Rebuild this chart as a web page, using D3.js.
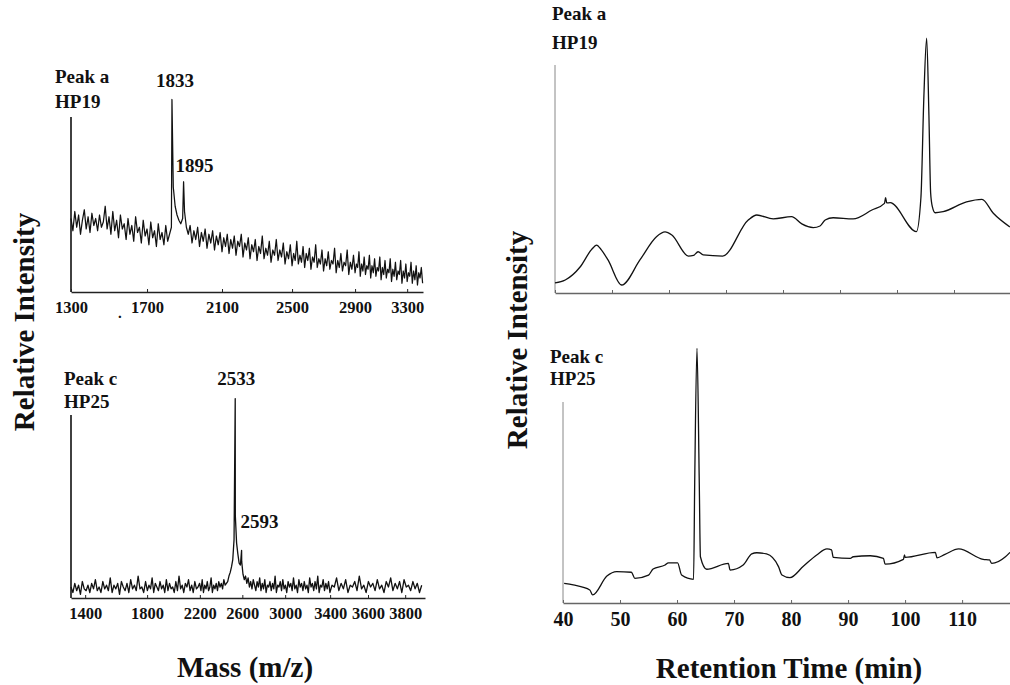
<!DOCTYPE html>
<html>
<head>
<meta charset="utf-8">
<script src="https://cdn.jsdelivr.net/npm/d3@7"></script>
<style>
  html, body { margin: 0; padding: 0; background: #fff; }
  svg { display: block; }
  text { font-family: "Liberation Serif", "Times New Roman", serif; font-weight: bold; fill: #111; }
</style>
</head>
<body>
<svg id="fig" width="1010" height="685"></svg>
<script>
// ---------- Data ----------

// MALDI spectrum, peak a (HP19): intensities sampled every 10 m/z from 1300
const specA_start = 1300, specA_step = 10;
const specA_intensity = [
  42, 35, 46, 37, 44, 33, 41, 47, 36, 43,
  34, 45, 38, 42, 35, 44, 37, 40, 49, 36,
  43, 33, 46, 35, 41, 31, 44, 36, 39, 30,
  42, 33, 38, 29, 43, 34, 37, 28, 41, 32,
  36, 27, 40, 31, 35, 26, 39, 30, 34, 27,
  38, 29, 33, 37,
  60, 49, 44, 41, 39, 42,
  46, 37, 33, 38, 28, 35, 30, 37, 26, 34,
  29, 36, 25, 33, 28, 35, 24, 32, 27, 34,
  23, 31, 26, 33, 22, 30, 25, 32, 21, 29,
  26, 33, 20, 28, 24, 31, 19, 27, 23, 30,
  18, 26, 22, 32, 19, 25, 21, 29, 17, 24,
  21, 30, 18, 24, 20, 28, 16, 23, 19, 27,
  15, 22, 18, 29, 16, 21, 17, 26, 14, 22,
  18, 25, 13, 20, 17, 27, 14, 19, 16, 24,
  12, 19, 15, 23, 13, 18, 16, 25, 11, 18,
  14, 22, 12, 17, 15, 24, 10, 17, 13, 21,
  11, 16, 14, 23, 9, 16, 12, 20, 10, 15,
  13, 21, 8, 15, 11, 19, 9, 14, 12, 20,
  7, 14, 10, 18, 8, 13, 11, 19, 6, 13,
  9, 17, 7, 12, 10, 18, 5, 12, 8, 16,
  6, 11, 9, 17, 5, 12, 7, 15, 4, 11,
  8, 14, 5
];
const specA_peakMz = [1833, 1895];
const specA_peakInt = [110, 63];
const specA_ticks = [1300, 1700, 2100, 2500, 2900, 3300];

// MALDI spectrum, peak c (HP25): intensities sampled every 12 m/z from 1310
const specC_start = 1310, specC_step = 12;
const specC_intensity = [
  6, 3, 8, 4, 7, 2, 9, 5, 4, 7,
  3, 8, 5, 10, 4, 6, 3, 9, 5, 7,
  4, 11, 3, 7, 5, 8, 2, 9, 6, 4,
  8, 3, 10, 5, 7, 4, 12, 5, 6, 3,
  9, 4, 7, 5, 11, 3, 8, 6, 4, 9,
  5, 7, 3, 10, 4, 8, 5, 6, 3, 9,
  4, 12, 5, 7, 3, 8, 6, 10, 4, 7,
  3, 9, 5, 6, 8, 4, 10, 3, 7, 5,
  9, 4, 6, 11, 3, 7, 5, 8, 4, 9,
  6, 8, 5, 10, 7, 8,
  9, 12, 14, 17, 21, 32,
  45, 30, 24, 19, 18, 20, 13, 10,
  12, 8, 11, 6, 9, 5, 10, 7, 4, 9,
  6, 11, 4, 8, 5, 10, 3, 7, 6, 9,
  4, 8, 5, 12, 3, 7, 6, 9, 4, 10,
  5, 7, 3, 9, 6, 8, 4, 11, 5, 7,
  3, 10, 6, 8, 4, 9, 5, 7, 3, 11,
  6, 8, 4, 9, 5, 12, 3, 7, 6, 10,
  4, 8, 5, 9, 3, 7, 6, 11, 4, 8,
  5, 10, 3, 7, 6, 9, 4, 12, 5, 7,
  3, 9, 6, 8, 4, 10, 5, 7, 3, 9,
  6, 11, 4, 8, 5, 9, 3, 10, 6, 7,
  4, 9, 5, 8, 3, 7
];
const specC_peakMz = [2533, 2593];
const specC_peakInt = [109, 26];
const specC_ticks = [1400, 1800, 2200, 2600, 3000, 3400, 3600, 3800];

// HPLC chromatogram, peak a (HP19)
const chromA_time = [40, 41.8, 44.4, 46.4, 47.3, 48.1, 49.3, 51.7, 54.9, 57.8, 59.3, 60.5, 63.4, 64.3, 65.1, 66,
  69.4, 73.9, 75.4, 78.3, 81.5, 83.3, 85.3, 86.5, 87.4, 88.8, 92.3, 95.6, 97.8, 98, 98.2, 98.8,
  103.4, 104.2, 104.7, 105.2, 105.6, 105.9, 106.2, 106.7, 108.1, 112.2, 114.9, 116.9, 119.8];
const chromA_signal = [4.4, 5.7, 11.4, 19, 21, 19, 14.5, 3.5, 14.5, 24.7, 26.8, 25.4, 16.2, 16.5, 18.1, 16.7,
  16.2, 32, 34.2, 32.5, 33.5, 30.3, 28.7, 29.4, 32, 33, 32.5, 36.4, 39.3, 41.8, 39.5, 39.6,
  26.9, 42, 85, 111.8, 78, 44, 37.9, 35.2, 35.7, 40, 41.1, 35, 29];
const chromTicks = [40, 50, 60, 70, 80, 90, 100, 110, 120];

// HPLC chromatogram, peak c (HP25)
const chromC_time = [40.2, 41.8, 44.7, 45.2, 47.7, 49.4, 52.0, 52.6, 55.0, 55.8, 57.9, 58.5, 60.1, 60.8,
  62.9, 63.1, 63.5, 63.9, 64.1, 65.2, 69.0, 69.3, 71.6, 73.1, 74.0, 75.7, 77.8, 78.4, 79.8, 82.2,
  84.5, 86.3, 87.1, 87.4, 90.4, 90.9, 93.9, 96.2, 96.5, 99.7, 99.9, 100.0, 105.3, 105.6, 107.0,
  109.4, 113.7, 114.8, 115.2, 117.6, 118.4];
const chromC_signal = [9.8, 9.0, 6.5, 4.0, 13.4, 15.6, 15.3, 12.3, 13.9, 16.9, 18.9, 20, 20, 13.9,
  11.8, 60, 126.7, 60, 23, 16.8, 19.7, 16.4, 18.9, 24.4, 25, 24.4, 18.1, 13.9, 12.6, 18.4,
  23.9, 26.9, 26.4, 22.7, 22.2, 23, 23.5, 22.2, 19.3, 21.7, 23.9, 22.7, 25.2, 22.5, 24.2,
  26.9, 21.7, 21.4, 19.7, 23, 25.2];

// ---------- Layout ----------
const svg = d3.select("#fig");
svg.append("rect").attr("width", 1010).attr("height", 685).attr("fill", "#fff");

const panelA = { x0: 71, x1: 423, y0: 292, y1: 117 };    // spectrum, peak a
const panelC = { x0: 71, x1: 425, y0: 598, y1: 415 };    // spectrum, peak c
const panelRA = { x0: 555, x1: 1011, y0: 293, y1: 65 };  // chromatogram, peak a
const panelRC = { x0: 563, x1: 1010, y0: 603, y1: 402 }; // chromatogram, peak c

// hand-calibrated mass axes: relative position of each labelled mass along the axis
const massFracA = [0, 0.216, 0.429, 0.628, 0.807, 0.955, 1];
const massEndA = 3423;
const massFracC = [0, 0.040, 0.215, 0.364, 0.484, 0.605, 0.732, 0.839, 0.944, 1];
const massStartC = 1310, massEndC = 3908;

const lerp = (p, f) => p.x0 + f * (p.x1 - p.x0);

const xA = d3.scaleLinear()
  .domain([...specA_ticks, massEndA])
  .range(massFracA.map(f => lerp(panelA, f)));
const yA = d3.scaleLinear().domain([0, 100]).range([panelA.y0, panelA.y1]);

const xC = d3.scaleLinear()
  .domain([massStartC, ...specC_ticks, massEndC])
  .range(massFracC.map(f => lerp(panelC, f)));
const yC = d3.scaleLinear().domain([0, 100]).range([panelC.y0, panelC.y1]);

const xRA = d3.scaleLinear().domain([40, 120]).range([panelRA.x0, panelRA.x1]);
const yRA = d3.scaleLinear().domain([0, 100]).range([panelRA.y0, panelRA.y1]);
const xRC = d3.scaleLinear().domain([40, 118.4]).range([panelRC.x0, panelRC.x1]);
const yRC = d3.scaleLinear().domain([0, 100]).range([panelRC.y0, panelRC.y1]);

// ---------- Helpers ----------
function spectrumPoints(start, step, values, peakMz, peakInt) {
  const pts = values.map((v, i) => ({ x: start + step * i, y: v }));
  peakMz.forEach((m, i) => pts.push({ x: m, y: peakInt[i] }));
  return pts.sort((a, b) => a.x - b.x);
}

function drawTrace(xs, ys, pts, width, color, curve) {
  const line = d3.line().x(d => xs(d.x)).y(d => ys(d.y)).curve(curve || d3.curveLinear);
  svg.append("path").datum(pts)
    .attr("fill", "none").attr("stroke", color)
    .attr("stroke-width", width).attr("stroke-linejoin", "round")
    .attr("d", line);
}

function yAxisLine(xs, ys, color, w) {
  const x = xs.range()[0];
  svg.append("line")
    .attr("x1", x).attr("x2", x)
    .attr("y1", ys(0)).attr("y2", ys(100))
    .attr("stroke", color).attr("stroke-width", w);
}

function xAxis(xs, ys, tickVals, fmt, fontSize, color, lineW) {
  const g = svg.append("g")
    .attr("transform", `translate(0,${ys(0)})`)
    .call(d3.axisBottom(xs).tickValues(tickVals).tickSizeInner(-3).tickSizeOuter(0)
      .tickPadding(9).tickFormat(fmt));
  g.select(".domain").attr("stroke", color).attr("stroke-width", lineW);
  g.selectAll(".tick line").attr("stroke", color).attr("stroke-width", 1);
  g.selectAll(".tick text")
    .attr("fill", "#111")
    .style("font-family", '"Liberation Serif", "Times New Roman", serif')
    .style("font-weight", "bold")
    .style("font-size", fontSize + "px");
  return g;
}

function label(x, y, txt, size, anchor) {
  svg.append("text").attr("x", x).attr("y", y)
    .attr("text-anchor", anchor || "start")
    .style("font-size", size + "px").text(txt);
}

// ---------- Spectrum, peak a ----------
yAxisLine(xA, yA, "#111", 1.6);
xAxis(xA, yA, specA_ticks, d3.format("d"), 16.5, "#222", 1.4);
drawTrace(xA, yA, spectrumPoints(specA_start, specA_step, specA_intensity, specA_peakMz, specA_peakInt), 1.25, "#111");
label(55, 83, "Peak a", 19);
label(55, 108, "HP19", 19);
label(xA(specA_peakMz[0]) + 3, 87, "1833", 19, "middle");
label(xA(specA_peakMz[1]) + 11, 172, "1895", 19, "middle");
label(118, 318, ".", 15);

// ---------- Spectrum, peak c ----------
yAxisLine(xC, yC, "#111", 1.6);
xAxis(xC, yC, specC_ticks, d3.format("d"), 16.5, "#222", 1.4);
drawTrace(xC, yC, spectrumPoints(specC_start, specC_step, specC_intensity, specC_peakMz, specC_peakInt), 1.3, "#111");
label(64, 385, "Peak c", 19);
label(64, 408, "HP25", 19);
label(xC(specC_peakMz[0]) + 1, 385, "2533", 19, "middle");
label(xC(specC_peakMz[1]) + 18, 528, "2593", 19, "middle");

// ---------- Chromatogram, peak a ----------
yAxisLine(xRA, yRA, "#888", 1);
xAxis(xRA, yRA, chromTicks, () => "", 20, "#666", 1.6);
drawTrace(xRA, yRA, chromA_time.map((t, i) => ({ x: t, y: chromA_signal[i] })), 1.3, "#111", d3.curveMonotoneX);
label(552, 20, "Peak a", 19);
label(552, 49, "HP19", 19);

// ---------- Chromatogram, peak c ----------
yAxisLine(xRC, yRC, "#888", 1);
xAxis(xRC, yRC, chromTicks.filter(t => t <= 110), d3.format("d"), 20, "#666", 1.6);
drawTrace(xRC, yRC, chromC_time.map((t, i) => ({ x: t, y: chromC_signal[i] })), 1.3, "#111", d3.curveMonotoneX);
label(550, 363, "Peak c", 19);
label(550, 385, "HP25", 19);

// ---------- Axis titles ----------
label(245, 677, "Mass (m/z)", 29, "middle");
label(789, 678, "Retention Time (min)", 29, "middle");
svg.append("text")
  .attr("transform", "translate(34,322) rotate(-90)")
  .attr("text-anchor", "middle").style("font-size", "29px").text("Relative Intensity");
svg.append("text")
  .attr("transform", "translate(527,340) rotate(-90)")
  .attr("text-anchor", "middle").style("font-size", "29px").text("Relative Intensity");
</script>
</body>
</html>
